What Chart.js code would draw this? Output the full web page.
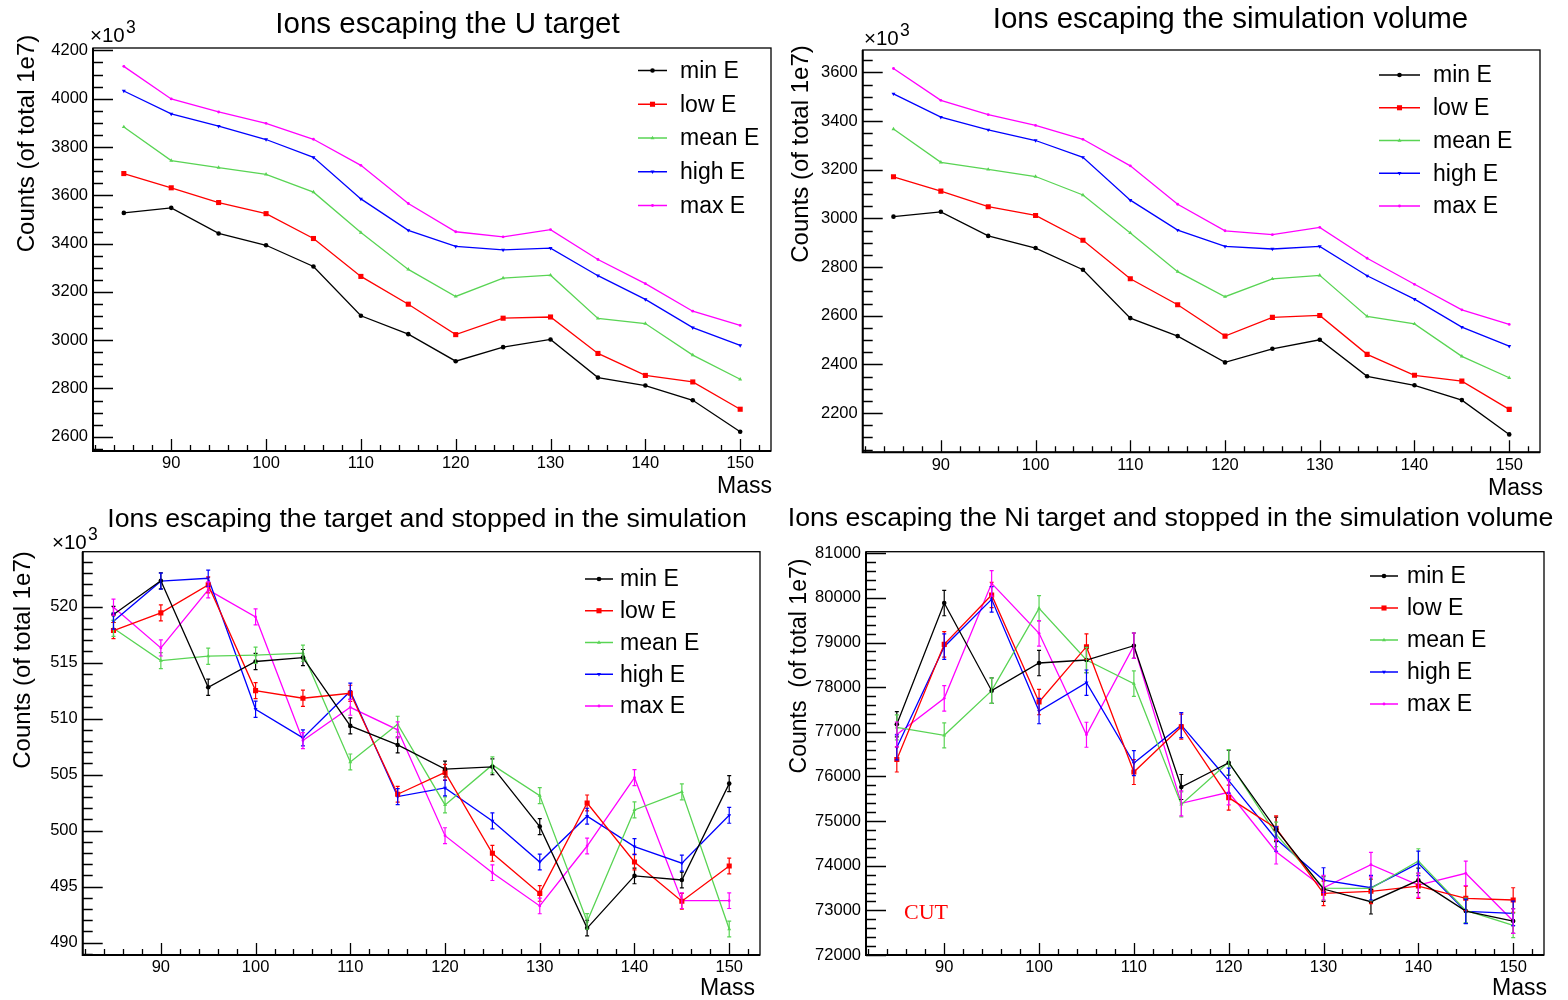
<!DOCTYPE html>
<html>
<head>
<meta charset="utf-8">
<script src="https://cdn.jsdelivr.net/npm/chart.js@4.4.1/dist/chart.umd.min.js"></script>
<style>
  html, body { margin: 0; padding: 0; background: #ffffff; }
  #wrap { position: relative; width: 1568px; height: 1000px; }
  #wrap canvas { position: absolute; left: 0; top: 0; }
</style>
</head>
<body>
<div id="wrap">
  <canvas id="pU" width="1568" height="1000"></canvas>
  <canvas id="pVol" width="1568" height="1000"></canvas>
  <canvas id="pStop" width="1568" height="1000"></canvas>
  <canvas id="pNi" width="1568" height="1000"></canvas>
</div>
<script>
// ---- data ----------------------------------------------------------------
const masses = [85, 90, 95, 100, 105, 110, 115, 120, 125, 130, 135, 140, 145, 150];
const seriesNames = ['min E', 'low E', 'mean E', 'high E', 'max E'];
const massTicks = [90, 100, 110, 120, 130, 140, 150];

// Ions escaping the U target (x10^3 counts)
const uMin  = [3527, 3548, 3442, 3393, 3305, 3101, 3025, 2913, 2971, 3003, 2845, 2812, 2751, 2621];
const uLow  = [3690, 3631, 3570, 3524, 3421, 3264, 3149, 3023, 3091, 3096, 2945, 2854, 2827, 2714];
const uMean = [3883, 3744, 3715, 3687, 3613, 3446, 3293, 3181, 3257, 3269, 3090, 3069, 2938, 2838];
const uHigh = [4032, 3937, 3886, 3831, 3757, 3585, 3455, 3388, 3374, 3381, 3267, 3169, 3052, 2978];
const uMax  = [4134, 3999, 3945, 3898, 3832, 3724, 3566, 3449, 3428, 3458, 3334, 3234, 3120, 3061];
const uTicks = [2600, 2800, 3000, 3200, 3400, 3600, 3800, 4000, 4200];

// Ions escaping the simulation volume (x10^3 counts)
const volMin  = [3007, 3027, 2928, 2878, 2789, 2590, 2516, 2408, 2464, 2501, 2351, 2314, 2253, 2112];
const volLow  = [3171, 3112, 3048, 3012, 2910, 2752, 2645, 2516, 2593, 2601, 2441, 2355, 2331, 2215];
const volMean = [3367, 3230, 3201, 3172, 3096, 2940, 2781, 2678, 2751, 2766, 2597, 2566, 2433, 2345];
const volHigh = [3512, 3416, 3364, 3320, 3251, 3075, 2952, 2885, 2874, 2885, 2764, 2668, 2553, 2475];
const volMax  = [3616, 3485, 3426, 3382, 3325, 3216, 3058, 2949, 2933, 2963, 2836, 2729, 2624, 2564];
const volTicks = [2200, 2400, 2600, 2800, 3000, 3200, 3400, 3600];

// Ions escaping the target and stopped in the simulation (x10^3 counts)
const stopMin  = [519.3, 522.3, 512.8, 515.1, 515.45, 509.35, 507.65, 505.5, 505.7, 500.36, 491.3, 495.96, 495.6, 504.2];
const stopLow  = [517.86, 519.44, 521.94, 512.5, 511.82, 512.26, 503.25, 505.2, 497.98, 494.4, 502.47, 497.2, 493.7, 496.85];
const stopMean = [518.07, 515.18, 515.57, 515.66, 515.84, 506.13, 509.5, 502.3, 505.87, 503.13, 491.9, 501.85, 503.46, 491.22];
const stopHigh = [518.7, 522.27, 522.53, 510.84, 508.28, 512.45, 503.04, 503.81, 500.87, 497.2, 501.29, 498.57, 497.1, 501.37];
const stopMax  = [519.95, 516.31, 521.49, 519.08, 508.04, 511.01, 509.0, 499.55, 496.25, 493.28, 498.63, 504.73, 493.75, 493.75];
const stopMinErr  = [0.72, 0.72, 0.72, 0.72, 0.72, 0.71, 0.71, 0.71, 0.71, 0.71, 0.70, 0.70, 0.70, 0.71];
const stopLowErr  = [0.72, 0.72, 0.72, 0.72, 0.72, 0.72, 0.71, 0.71, 0.71, 0.70, 0.71, 0.71, 0.70, 0.70];
const stopMeanErr = [0.72, 0.72, 0.72, 0.72, 0.72, 0.71, 0.71, 0.71, 0.71, 0.71, 0.70, 0.71, 0.71, 0.70];
const stopHighErr = [0.72, 0.72, 0.72, 0.72, 0.71, 0.72, 0.71, 0.71, 0.71, 0.71, 0.71, 0.71, 0.71, 0.71];
const stopMaxErr  = [0.72, 0.72, 0.72, 0.72, 0.71, 0.71, 0.71, 0.71, 0.70, 0.70, 0.71, 0.71, 0.70, 0.70];
const stopTicks = [490, 495, 500, 505, 510, 515, 520];

// Ions escaping the Ni target and stopped in the simulation volume
const niMin  = [77170, 79886, 77922, 78542, 78609, 78930, 75764, 76308, 74815, 73478, 73194, 73673, 72985, 72761];
const niLow  = [76380, 78960, 80066, 77668, 78908, 76100, 77115, 75525, 74840, 73382, 73427, 73545, 73270, 73232];
const niMean = [77100, 76922, 77922, 79767, 78609, 78079, 75375, 76324, 74704, 73500, 73494, 74106, 73000, 72665];
const niHigh = [76650, 78908, 79969, 77466, 78101, 76300, 77150, 75905, 74599, 73680, 73507, 74054, 72978, 72933];
const niMax  = [76940, 77751, 80327, 79207, 76935, 78930, 75398, 75645, 74314, 73507, 74024, 73568, 73830, 72761];
const niMinErr  = [285, 285, 285, 285, 285, 285, 280, 280, 275, 275, 275, 275, 275, 275];
const niLowErr  = [280, 285, 285, 285, 285, 280, 280, 280, 275, 275, 275, 275, 275, 275];
const niMeanErr = [280, 280, 285, 285, 285, 285, 280, 280, 275, 275, 275, 275, 275, 275];
const niHighErr = [280, 285, 285, 285, 285, 280, 280, 280, 275, 275, 275, 275, 275, 275];
const niMaxErr  = [280, 285, 285, 285, 280, 285, 280, 280, 275, 275, 275, 275, 275, 275];
const niTicks = [72000, 73000, 74000, 75000, 76000, 77000, 78000, 79000, 80000, 81000];

// ---- styling ---------------------------------------------------------------
const SANS = '"Liberation Sans", Arial, Helvetica, sans-serif';
const SERIF = '"Liberation Serif", "Times New Roman", serif';
const colors = ['#000000', '#ff0000', '#59d454', '#0000ff', '#ff00ff'];
const markers = [
  { style: 'circle',   r: 2.3, rot: 0 },
  { style: 'rect',     r: 3.6, rot: 0 },
  { style: 'triangle', r: 2.3, rot: 0 },
  { style: 'triangle', r: 2.3, rot: 180 },
  { style: 'circle',   r: 1.4, rot: 0 }
];
const LINE_W = 1.3;
const TICK_FONT = 16.5;

// Frame, ticks, error bars, titles and legend in the ROOT canvas style
const rootFrame = {
  id: 'rootFrame',
  afterDatasetsDraw(chart) {
    const { ctx, chartArea: a, scales: { x, y } } = chart;
    ctx.save();
    ctx.beginPath();
    ctx.rect(a.left, a.top, a.width, a.height);
    ctx.clip();
    chart.data.datasets.forEach((ds) => {
      if (!ds.errors) return;
      ctx.strokeStyle = ds.borderColor;
      ctx.lineWidth = 1.2;
      ds.data.forEach((p, j) => {
        const px = x.getPixelForValue(p.x);
        const y1 = y.getPixelForValue(p.y - ds.errors[j]);
        const y2 = y.getPixelForValue(p.y + ds.errors[j]);
        ctx.beginPath();
        ctx.moveTo(px, y1); ctx.lineTo(px, y2);
        ctx.moveTo(px - 2, y1); ctx.lineTo(px + 2, y1);
        ctx.moveTo(px - 2, y2); ctx.lineTo(px + 2, y2);
        ctx.stroke();
      });
    });
    ctx.restore();
  },
  afterDraw(chart, args, o) {
    const { ctx, chartArea: a, scales: { x, y } } = chart;
    ctx.save();
    // frame
    ctx.strokeStyle = '#000';
    ctx.lineWidth = 1.3;
    ctx.strokeRect(a.left, a.top, a.width, a.height);
    ctx.lineWidth = 2;
    ctx.beginPath();
    ctx.moveTo(a.left, a.top); ctx.lineTo(a.left, a.bottom); ctx.lineTo(a.right, a.bottom);
    ctx.stroke();

    // x ticks (drawn inward)
    ctx.lineWidth = 1.3;
    ctx.beginPath();
    for (let v = Math.ceil(x.min / 2) * 2; v <= x.max; v += 2) {
      const px = Math.round(x.getPixelForValue(v)) + 0.5;
      const len = v % 10 === 0 ? 12 : 6;
      ctx.moveTo(px, a.bottom); ctx.lineTo(px, a.bottom - len);
    }
    ctx.stroke();
    // y ticks (drawn inward)
    ctx.beginPath();
    const yMinor = o.yMinor, yMajor = o.yMajor;
    for (let v = Math.ceil(y.min / yMinor) * yMinor; v <= y.max + 1e-9; v += yMinor) {
      const py = Math.round(y.getPixelForValue(v)) + 0.5;
      const isMajor = Math.abs(v / yMajor - Math.round(v / yMajor)) < 1e-6;
      ctx.moveTo(a.left, py); ctx.lineTo(a.left + (isMajor ? 20 : 10), py);
    }
    ctx.stroke();

    ctx.fillStyle = '#000';
    ctx.textBaseline = 'alphabetic';
    // title
    ctx.font = o.title.size + 'px ' + SANS;
    ctx.textAlign = 'center';
    ctx.fillText(o.title.text, o.title.x, o.title.y);
    // axis title "Mass"
    ctx.font = '23px ' + SANS;
    ctx.textAlign = 'right';
    ctx.fillText('Mass', o.mass.x, o.mass.y);
    // y axis title
    ctx.save();
    ctx.translate(o.yTitle.x, o.yTitle.y);
    ctx.rotate(-Math.PI / 2);
    ctx.font = o.yTitle.size + 'px ' + SANS;
    ctx.textAlign = 'center';
    ctx.fillText(o.yTitle.text, 0, 0);
    ctx.restore();
    // axis multiplier
    if (o.exp) {
      ctx.textAlign = 'left';
      ctx.font = '20.5px ' + SANS;
      ctx.fillText('\u00d710', o.exp.x, o.exp.y);
      ctx.font = '17.5px ' + SANS;
      ctx.fillText('3', o.exp.x + 36, o.exp.y - 9);
    }
    // legend
    const lg = o.legend;
    chart.data.datasets.forEach((ds, i) => {
      const ly = lg.y0 + i * lg.dy;
      ctx.strokeStyle = ds.borderColor;
      ctx.lineWidth = 1.5;
      ctx.beginPath();
      ctx.moveTo(lg.x1, ly); ctx.lineTo(lg.x2, ly);
      ctx.stroke();
      ctx.fillStyle = ds.borderColor;
      Chart.helpers.drawPoint(ctx, {
        pointStyle: ds.pointStyle, radius: ds.pointRadius,
        rotation: ds.pointRotation, borderWidth: 0
      }, (lg.x1 + lg.x2) / 2, ly);
      ctx.fillStyle = '#000';
      ctx.font = '23px ' + SANS;
      ctx.textAlign = 'left';
      ctx.textBaseline = 'middle';
      ctx.fillText(ds.label, lg.tx, ly + 1);
      ctx.textBaseline = 'alphabetic';
    });
    // extra text
    if (o.note) {
      ctx.fillStyle = o.note.color;
      ctx.font = o.note.size + 'px ' + SERIF;
      ctx.textAlign = 'left';
      ctx.fillText(o.note.text, o.note.x, o.note.y);
    }
    ctx.restore();
  }
};

function buildPanel(canvasId, cfg) {
  const Y_W = 60, X_H = 40;
  const f = cfg.frame;
  const datasets = cfg.values.map((vals, i) => ({
    label: seriesNames[i],
    data: masses.map((m, j) => ({ x: m, y: vals[j] })),
    errors: cfg.errors ? cfg.errors[i] : null,
    borderColor: colors[i],
    backgroundColor: colors[i],
    borderWidth: LINE_W,
    pointStyle: markers[i].style,
    pointRadius: markers[i].r,
    pointRotation: markers[i].rot,
    pointBorderWidth: 0,
    pointHoverRadius: markers[i].r,
    tension: 0,
    fill: false
  }));
  return new Chart(document.getElementById(canvasId), {
    type: 'line',
    data: { datasets },
    options: {
      responsive: false,
      animation: false,
      events: [],
      layout: { padding: { left: f.l - Y_W, top: f.t, right: 1568 - f.r, bottom: 1000 - f.b - X_H } },
      plugins: {
        legend: { display: false },
        tooltip: { enabled: false },
        title: { display: false },
        rootFrame: cfg.deco
      },
      scales: {
        x: {
          type: 'linear', min: 81.75, max: 153.25,
          afterFit: (s) => { s.height = X_H; },
          afterBuildTicks: (s) => { s.ticks = massTicks.map((v) => ({ value: v })); },
          grid: { display: false, drawTicks: false },
          border: { display: false },
          ticks: { padding: 3, color: '#000', font: { family: SANS, size: TICK_FONT },
                   maxRotation: 0, autoSkip: false, callback: (v) => String(v) }
        },
        y: {
          type: 'linear', min: cfg.yMin, max: cfg.yMax,
          afterFit: (s) => { s.width = Y_W; },
          afterBuildTicks: (s) => { s.ticks = cfg.yTicks.map((v) => ({ value: v })); },
          grid: { display: false, drawTicks: false },
          border: { display: false },
          ticks: { padding: 5, color: '#000', font: { family: SANS, size: TICK_FONT },
                   autoSkip: false, callback: (v) => String(v) }
        }
      }
    },
    plugins: [rootFrame]
  });
}

buildPanel('pU', {
  frame: { l: 93, t: 48, r: 771, b: 451 },
  yMin: 2541, yMax: 4210, yTicks: uTicks,
  values: [uMin, uLow, uMean, uHigh, uMax],
  deco: {
    yMajor: 200, yMinor: 50,
    title: { text: 'Ions escaping the U target', x: 447.5, y: 33, size: 29.5 },
    yTitle: { text: 'Counts (of total 1e7)', x: 34, y: 143.5, size: 24 },
    mass: { x: 772, y: 493 },
    exp: { x: 90, y: 42 },
    legend: { x1: 638, x2: 667, tx: 680, y0: 70.5, dy: 33.75 }
  }
});

buildPanel('pVol', {
  frame: { l: 862.7, t: 50, r: 1540, b: 452.3 },
  yMin: 2038.5, yMax: 3692, yTicks: volTicks,
  values: [volMin, volLow, volMean, volHigh, volMax],
  deco: {
    yMajor: 200, yMinor: 50,
    title: { text: 'Ions escaping the simulation volume', x: 1230.5, y: 28, size: 29.5 },
    yTitle: { text: 'Counts (of total 1e7)', x: 808, y: 154, size: 24 },
    mass: { x: 1543, y: 495 },
    exp: { x: 864, y: 45 },
    legend: { x1: 1379, x2: 1420, tx: 1433, y0: 75, dy: 32.75 }
  }
});

buildPanel('pStop', {
  frame: { l: 82.7, t: 551.7, r: 760, b: 955 },
  yMin: 488.9, yMax: 524.9, yTicks: stopTicks,
  values: [stopMin, stopLow, stopMean, stopHigh, stopMax],
  errors: [stopMinErr, stopLowErr, stopMeanErr, stopHighErr, stopMaxErr],
  deco: {
    yMajor: 5, yMinor: 1,
    title: { text: 'Ions escaping the target and stopped in the simulation', x: 427, y: 527, size: 26.7 },
    yTitle: { text: 'Counts (of total 1e7)', x: 30, y: 660, size: 24 },
    mass: { x: 755, y: 995 },
    exp: { x: 52, y: 549 },
    legend: { x1: 585, x2: 613, tx: 620, y0: 579, dy: 31.75 }
  }
});

buildPanel('pNi', {
  frame: { l: 866, t: 551.7, r: 1544, b: 955 },
  yMin: 72000, yMax: 81036, yTicks: niTicks,
  values: [niMin, niLow, niMean, niHigh, niMax],
  errors: [niMinErr, niLowErr, niMeanErr, niHighErr, niMaxErr],
  deco: {
    yMajor: 1000, yMinor: 200,
    title: { text: 'Ions escaping the Ni target and stopped in the simulation volume', x: 1170.5, y: 526, size: 26.7 },
    yTitle: { text: 'Counts  (of total 1e7)', x: 806, y: 666, size: 23 },
    mass: { x: 1547, y: 995 },
    legend: { x1: 1370, x2: 1398, tx: 1407, y0: 576, dy: 32 },
    note: { text: 'CUT', x: 904, y: 919, size: 22, color: '#ff0000' }
  }
});
</script>
</body>
</html>
